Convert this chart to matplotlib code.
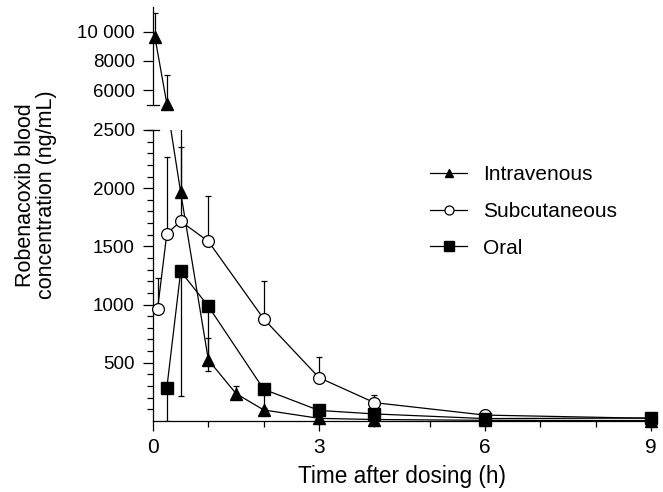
import numpy as np
import matplotlib
matplotlib.use('Agg')
import matplotlib.pyplot as plt
from matplotlib.lines import Line2D

plt.rcParams['font.family'] = ['Liberation Sans', 'DejaVu Sans']

# ---------------- data ----------------
iv_time = [0.033, 0.25, 0.5, 1, 1.5, 2, 3, 4, 6, 9]
iv_conc = [9660, 5050, 1963, 524, 235, 94, 22, 12, 5, 3]
iv_err_up = [1640, 1950, 1750, 192, 65, 15, 5, 5, 2, 1]

sc_time = [0.083, 0.25, 0.5, 1, 2, 3, 4, 6, 9]
sc_conc = [965, 1610, 1715, 1543, 877, 372, 157, 50, 22]
sc_err_up = [260, 655, 635, 390, 325, 175, 65, 10, 5]

oral_time = [0.25, 0.5, 1, 2, 3, 4, 6, 9]
oral_conc = [285, 1285, 985, 272, 90, 60, 20, 25]
oral_err_down = [285, 1075, 560, 170, 30, 20, 5, 5]

series_names = ['Intravenous', 'Subcutaneous', 'Oral']
x_ticks = [0, 3, 6, 9]
x_minor = [1, 2, 4, 5, 7, 8]
y_ticks = [500, 1000, 1500, 2000, 2500, 6000, 8000, 10000]
y_ticklabels = ['500', '1000', '1500', '2000', '2500', '6000', '8000', '10 000']
y_minor = [v for v in range(100, 2500, 100) if v % 500 != 0]

# ---------------- broken y scale ----------------
LOW_TOP, HIGH_BOTTOM, GAP, HIGH_SLOPE = 2500.0, 5000.0, 218.0, 0.1252


def fwd(v):
    v = np.asarray(v, dtype=float)
    return np.where(v <= LOW_TOP, v,
                    np.where(v < HIGH_BOTTOM,
                             LOW_TOP + (v - LOW_TOP) * GAP / (HIGH_BOTTOM - LOW_TOP),
                             LOW_TOP + GAP + (v - HIGH_BOTTOM) * HIGH_SLOPE))


def inv(u):
    u = np.asarray(u, dtype=float)
    return np.where(u <= LOW_TOP, u,
                    np.where(u < LOW_TOP + GAP,
                             LOW_TOP + (u - LOW_TOP) * (HIGH_BOTTOM - LOW_TOP) / GAP,
                             HIGH_BOTTOM + (u - LOW_TOP - GAP) / HIGH_SLOPE))


fig = plt.figure(figsize=(6.63, 4.92), dpi=100)
ax = fig.add_axes([0.2308, 0.1445, 0.7511, 0.8413])
ax.set_yscale('function', functions=(fwd, inv))
ax.set_xlim(0, 9)
ax.set_ylim(0, 11700)

lw = 0.9
ekw = dict(fmt='none', ecolor='k', elinewidth=lw, capsize=2.3, capthick=lw, zorder=2)
ax.errorbar(iv_time, iv_conc, yerr=[np.zeros(len(iv_conc)), iv_err_up], **ekw)
ax.errorbar(sc_time, sc_conc, yerr=[np.zeros(len(sc_conc)), sc_err_up], **ekw)
ax.errorbar(oral_time, oral_conc, yerr=[oral_err_down, np.zeros(len(oral_conc))], **ekw)

ax.plot(iv_time, iv_conc, '-', color='k', lw=lw, zorder=2)
ax.plot(sc_time, sc_conc, '-', color='k', lw=lw, zorder=2)
ax.plot(oral_time, oral_conc, '-', color='k', lw=lw, zorder=2)

# gap mask of the broken axis
ax.axhspan(LOW_TOP, HIGH_BOTTOM, facecolor='white', edgecolor='none', zorder=2.5)

ax.plot(iv_time, iv_conc, linestyle='none', marker='^', ms=9, color='k', zorder=4, clip_on=False)
ax.plot(sc_time, sc_conc, linestyle='none', marker='o', ms=8.5, mfc='white', mec='k', mew=lw,
        zorder=4, clip_on=False)
ax.plot(oral_time, oral_conc, linestyle='none', marker='s', ms=8, color='k', zorder=4, clip_on=False)

# spines
for s in ['top', 'right']:
    ax.spines[s].set_visible(False)
ax.spines['left'].set_bounds(0, LOW_TOP)
ax.spines['left'].set_linewidth(lw)
ax.spines['bottom'].set_linewidth(lw)
ytr = ax.get_yaxis_transform()
ax.plot([0, 0], [HIGH_BOTTOM, 11700], transform=ytr, color='k', lw=lw, clip_on=False, zorder=5)
for yb in (LOW_TOP, HIGH_BOTTOM):
    ax.plot([-0.012, 0.012], [yb, yb], transform=ytr, color='k', lw=lw, clip_on=False, zorder=5)

ax.set_yticks(y_ticks)
ax.set_yticklabels(y_ticklabels)
ax.set_yticks(y_minor, minor=True)
ax.set_xticks(x_ticks)
ax.set_xticks(x_minor, minor=True)
ax.tick_params(axis='both', which='major', length=7, width=lw, direction='out', labelsize=13.5, pad=6)
ax.tick_params(axis='both', which='minor', length=4.5, width=lw, direction='out')
ax.tick_params(axis='x', which='major', labelsize=15, pad=5)

ax.set_xlabel('Time after dosing (h)', fontsize=16.3, labelpad=6)
ax.set_ylabel('Robenacoxib blood\nconcentration (ng/mL)', fontsize=15.5, linespacing=1.0)
ax.yaxis.set_label_coords(-0.193, 0.546)

handles = [
    Line2D([], [], color='k', lw=lw, marker='^', ms=6),
    Line2D([], [], color='k', lw=lw, marker='o', ms=6.5, mfc='white', mec='k', mew=lw),
    Line2D([], [], color='k', lw=lw, marker='s', ms=6.5),
]
ax.legend(handles, series_names, loc='upper left', bbox_to_anchor=(0.556, 0.618), frameon=False,
          fontsize=15, handlelength=1.8, handletextpad=0.75, labelspacing=0.85,
          borderpad=0, borderaxespad=0)

fig.savefig('out.png', dpi=100)
